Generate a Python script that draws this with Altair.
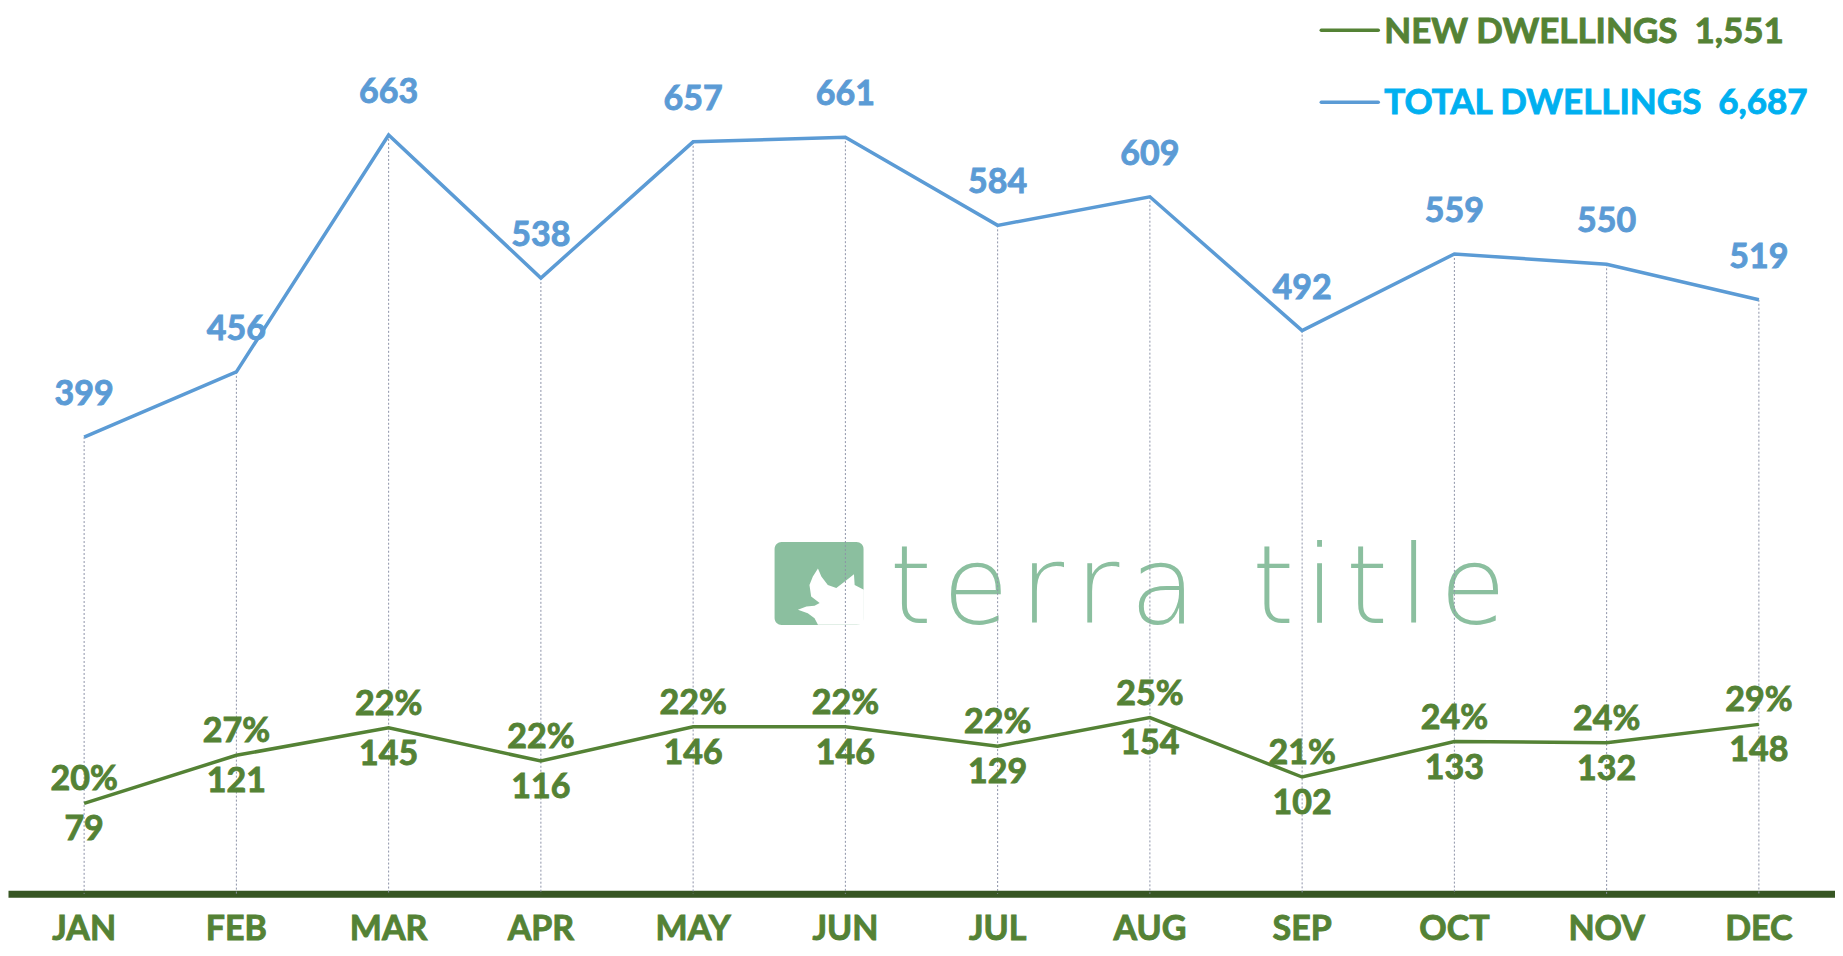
import altair as alt
import pandas as pd

months = ["JAN", "FEB", "MAR", "APR", "MAY", "JUN", "JUL", "AUG", "SEP", "OCT", "NOV", "DEC"]
total_dwellings = [399, 456, 663, 538, 657, 661, 584, 609, 492, 559, 550, 519]
new_dwellings = [79, 121, 145, 116, 146, 146, 129, 154, 102, 133, 132, 148]
new_share_pct = [20, 27, 22, 22, 22, 22, 22, 25, 21, 24, 24, 29]

legend_new = "NEW DWELLINGS\u00a0 " + f"{sum(new_dwellings):,}"
legend_total = "TOTAL DWELLINGS\u00a0 " + f"{sum(total_dwellings):,}"

df = pd.DataFrame({
    "month": months,
    "total": total_dwellings,
    "new": new_dwellings,
    "pct": [f"{p}%" for p in new_share_pct],
})

W, H = 1828, 886
YMAX = 773.7
GREEN = "#548235"
DARK_GREEN = "#375623"
BLUE = "#5b9bd5"
CYAN = "#00b0f0"
WM = "#8bbf9f"
FONT = "Lato"
FW = "bold"
SW = 0.9

x = alt.X(
    "month:O", sort=months, title=None,
    scale=alt.Scale(type="point", padding=0.5),
    axis=alt.Axis(labels=False, domainColor=DARK_GREEN, domainWidth=7, ticks=False, grid=False),
)
yscale = alt.Scale(domain=[0, YMAX])

base = alt.Chart(df)
one = alt.Chart(alt.Data(values=[{"k": 1}]))


def label_text(color, size=34, **kw):
    return dict(font=FONT, fontSize=size, fontWeight=FW, color=color,
                stroke=color, strokeWidth=SW, baseline="middle", **kw)


# watermark logo
wm_box = one.mark_rect(color=WM, cornerRadius=7).encode(
    x=alt.value(767), x2=alt.value(856), y=alt.value(534), y2=alt.value(617)
)
leaf_path = ("M 0.95 -0.18 L 0.68 -0.32 L 0.66 -0.64 L 0.38 -0.42 L 0.14 -0.23 "
             "L -0.11 -0.32 L -0.30 -0.57 L -0.40 -0.81 L -0.55 -0.57 L -0.65 -0.32 "
             "L -0.60 0.02 L -0.35 0.21 L -0.50 0.29 L -0.74 0.31 L -0.99 0.41 "
             "L -0.70 0.51 L -0.50 0.66 L -0.40 0.85 L 0.95 0.85 Z")
wm_leaf = one.mark_point(shape=leaf_path, filled=True, color="white", opacity=1,
                         size=4624, strokeWidth=0).encode(
    x=alt.value(824), y=alt.value(588)
)
wm_text = one.mark_text(
    text="t\u200ae\u200ar\u200ar\u200aa\u2009 t\u200ai\u200at\u200al\u200ae",
    font="DejaVu Sans", fontWeight=200, fontSize=108, color=WM,
    align="left", baseline="alphabetic",
).encode(x=alt.value(882), y=alt.value(615))

rules = base.mark_rule(color="#8d93a8", strokeDash=[2, 2], strokeWidth=1).encode(
    x=x, y=alt.Y("total:Q", scale=yscale, axis=None), y2=alt.datum(0)
)
total_line = base.mark_line(color=BLUE, strokeWidth=3.5).encode(
    x=x, y=alt.Y("total:Q", scale=yscale, axis=None)
)
new_line = base.mark_line(color=GREEN, strokeWidth=3.5).encode(
    x=x, y=alt.Y("new:Q", scale=yscale, axis=None)
)
total_lbl = base.mark_text(**label_text(BLUE, dy=-42)).encode(
    x=x, y=alt.Y("total:Q", scale=yscale, axis=None), text="total:Q")
pct_lbl = base.mark_text(**label_text(GREEN, dy=-23)).encode(
    x=x, y=alt.Y("new:Q", scale=yscale, axis=None), text="pct:N")
new_lbl = base.mark_text(**label_text(GREEN, dy=27)).encode(
    x=x, y=alt.Y("new:Q", scale=yscale, axis=None), text="new:Q")
month_lbl = base.mark_text(**label_text(GREEN)).encode(
    x=x, y=alt.value(H + 36), text="month:N")

# legend
leg_new_line = one.mark_rule(color=GREEN, strokeWidth=3.5, strokeCap="round").encode(
    x=alt.value(1314), x2=alt.value(1371), y=alt.value(22)
)
leg_total_line = one.mark_rule(color=BLUE, strokeWidth=3.5, strokeCap="round").encode(
    x=alt.value(1314), x2=alt.value(1371), y=alt.value(94)
)
leg_new_text = one.mark_text(text=legend_new, align="left", **label_text(GREEN, size=35)).encode(
    x=alt.value(1377), y=alt.value(24))
leg_total_text = one.mark_text(text=legend_total, align="left", **label_text(CYAN, size=35)).encode(
    x=alt.value(1377), y=alt.value(95))

chart = alt.layer(
    wm_box, wm_leaf, wm_text, rules, total_line, new_line,
    total_lbl, pct_lbl, new_lbl, month_lbl,
    leg_new_line, leg_total_line, leg_new_text, leg_total_text,
).properties(
    width=W, height=H, background="white",
    autosize=alt.AutoSizeParams(type="none"),
    padding={"left": 0, "top": 0, "right": 0, "bottom": 54},
).configure_view(stroke=None)

chart.save("out.html", embed_options={"renderer": "svg", "actions": False})
